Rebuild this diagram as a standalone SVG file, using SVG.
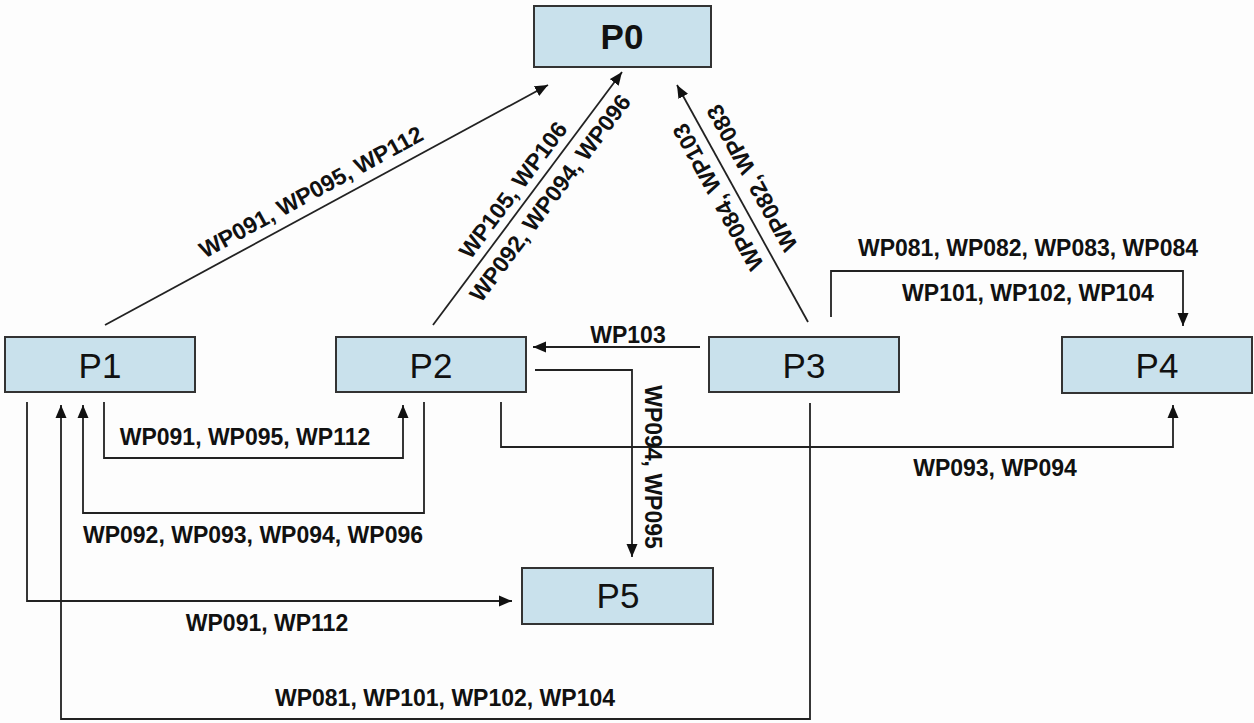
<svg xmlns="http://www.w3.org/2000/svg" width="1254" height="723" viewBox="0 0 1254 723">
<style>
.box{fill:#c9e1ec;stroke:#333;stroke-width:2}
.nt{font-family:"Liberation Sans",Arial,sans-serif;font-size:35px;fill:#111;text-anchor:middle}
.nb{font-weight:bold}
.lbl{font-family:"Liberation Sans",Arial,sans-serif;font-size:23px;font-weight:bold;fill:#111;text-anchor:middle}
.c{fill:none;stroke:#222;stroke-width:1.8;marker-end:url(#ah)}
</style>
<defs>
<marker id="ah" markerUnits="userSpaceOnUse" markerWidth="14" markerHeight="12" refX="13" refY="6" orient="auto">
<path d="M0,0.5 L13,6 L0,11.5 z" fill="#111"/>
</marker>
</defs>
<rect width="1254" height="723" fill="#fdfdfd"/>
<g id="connectors">
<path class="c" d="M105,325 L548,85"/>
<path class="c" d="M433,325 L622,72"/>
<path class="c" d="M808,322 L677,85"/>
<path class="c" d="M831,317 V271 H1183 V326"/>
<path class="c" d="M700,347 H533"/>
<path class="c" d="M535,370 H632 V557"/>
<path class="c" d="M501,402 V447 H1173 V405"/>
<path class="c" d="M104,402 V458 H403 V405"/>
<path class="c" d="M424,402 V513 H83 V405"/>
<path class="c" d="M27,402 V601 H512"/>
<path class="c" d="M810,403 V719 H61 V405"/>
<text class="lbl" transform="translate(311,192) rotate(-28.5)" y="8">WP091, WP095, WP112</text>
<text class="lbl" transform="translate(513,190) rotate(-53.2)" y="8">WP105, WP106</text>
<text class="lbl" transform="translate(550,198) rotate(-53.2)" y="8">WP092, WP094, WP096</text>
<text class="lbl" transform="translate(718,197) rotate(-118.8)" y="8">WP084, WP103</text>
<text class="lbl" transform="translate(752,178) rotate(-118.8)" y="8">WP082, WP083</text>
<text class="lbl" x="1028" y="256">WP081, WP082, WP083, WP084</text>
<text class="lbl" x="1028" y="301">WP101, WP102, WP104</text>
<text class="lbl" x="628" y="343">WP103</text>
<text class="lbl" transform="translate(653,467) rotate(90)" y="8">WP094, WP095</text>
<text class="lbl" x="245" y="445">WP091, WP095, WP112</text>
<text class="lbl" x="253" y="543">WP092, WP093, WP094, WP096</text>
<text class="lbl" x="995" y="476">WP093, WP094</text>
<text class="lbl" x="267" y="631">WP091, WP112</text>
<text class="lbl" x="445" y="706">WP081, WP101, WP102, WP104</text>
</g>
<g id="P0"><rect class="box" x="534" y="6" width="177" height="61"/><text class="nt nb" x="622" y="49">P0</text></g>
<g id="P1"><rect class="box" x="5" y="337" width="190" height="55"/><text class="nt" x="100" y="378">P1</text></g>
<g id="P2"><rect class="box" x="336" y="337" width="190" height="55"/><text class="nt" x="431" y="378">P2</text></g>
<g id="P3"><rect class="box" x="709" y="337" width="190" height="55"/><text class="nt" x="804" y="378">P3</text></g>
<g id="P4"><rect class="box" x="1062" y="337" width="190" height="56"/><text class="nt" x="1157" y="378">P4</text></g>
<g id="P5"><rect class="box" x="522" y="568" width="191" height="56"/><text class="nt" x="618" y="608">P5</text></g>
</svg>
